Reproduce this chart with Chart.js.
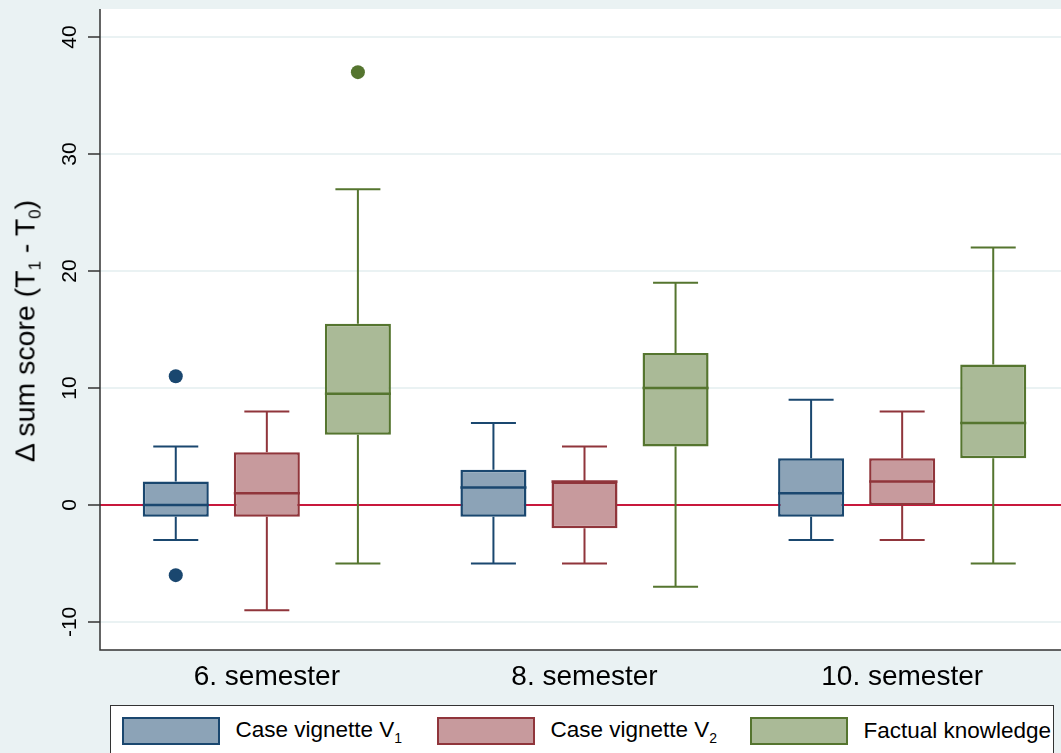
<!DOCTYPE html>
<html>
<head>
<meta charset="utf-8">
<script src="https://cdn.jsdelivr.net/npm/chart.js@4.4.1/dist/chart.umd.min.js"></script>
<style>
  html, body { margin: 0; padding: 0; background: #eaf2f3; }
  #wrap { position: relative; width: 1061px; height: 753px; overflow: hidden; font-family: "Liberation Sans", Arial, sans-serif; }
  #chart { position: absolute; left: 0; top: 0; }
  #ytitle { position: absolute; left: 27px; top: 331px; transform: translate(-50%, -50%) rotate(-90deg); white-space: nowrap; font-size: 28.5px; color: #000; }
  #ytitle sub { font-size: 17px; vertical-align: -6px; }
  #legend { position: absolute; left: 110px; top: 705px; width: 944px; height: 70px; background: #fff; border: 1.5px solid #333; box-sizing: border-box; }
  .item { position: absolute; top: 10.5px; display: flex; align-items: center; font-size: 22.5px; color: #000; white-space: nowrap; }
  .sw { width: 98px; height: 28px; box-sizing: border-box; border: 2.5px solid; margin-right: 16px; }
  .item sub { font-size: 14px; vertical-align: -6px; }
</style>
</head>
<body>
<div id="wrap">
  <canvas id="chart" width="1061" height="753"></canvas>
  <div id="ytitle">&Delta; sum score (T<sub>1</sub> - T<sub>0</sub>)</div>
  <div id="legend"></div>
</div>
<script>
// groups on the x axis
const groups = ['6. semester', '8. semester', '10. semester'];

// Case vignette V1
const v1Min = [-3, -5, -3];
const v1Q1 = [-1, -1, -1];
const v1Med = [0, 1.5, 1];
const v1Q3 = [2, 3, 4];
const v1Max = [5, 7, 9];
const v1Out = [[11, -6], [], []];

// Case vignette V2
const v2Min = [-9, -5, -3];
const v2Q1 = [-1, -2, 0];
const v2Med = [1, 2, 2];
const v2Q3 = [4.5, 2, 4];
const v2Max = [8, 5, 8];
const v2Out = [[], [], []];

// Factual knowledge
const fkMin = [-5, -7, -5];
const fkQ1 = [6, 5, 4];
const fkMed = [9.5, 10, 7];
const fkQ3 = [15.5, 13, 12];
const fkMax = [27, 19, 22];
const fkOut = [[37], [], []];

const yTicks = [-10, 0, 10, 20, 30, 40];

const series = [
    { label: 'Case vignette V', sub: '1', min: v1Min, q1: v1Q1, med: v1Med, q3: v1Q3, max: v1Max, out: v1Out, line: '#1a476f', fill: '#8ca3b7' },
    { label: 'Case vignette V', sub: '2', min: v2Min, q1: v2Q1, med: v2Med, q3: v2Q3, max: v2Max, out: v2Out, line: '#90353b', fill: '#c79a9d' },
    { label: 'Factual knowledge', sub: '', min: fkMin, q1: fkQ1, med: fkMed, q3: fkQ3, max: fkMax, out: fkOut, line: '#55752f', fill: '#aaba97' }
];

const AXIS_X = 100;
const BG = '#eaf2f3';

const boxExtras = {
    id: 'boxExtras',
    beforeDraw(chart) {
        const ctx = chart.ctx;
        const a = chart.chartArea;
        const y = chart.scales.y;
        ctx.save();
        ctx.fillStyle = BG;
        ctx.fillRect(0, 0, chart.width, chart.height);
        ctx.fillStyle = '#fff';
        ctx.fillRect(AXIS_X, a.top, chart.width - AXIS_X, a.bottom - a.top);
        // grid lines
        ctx.strokeStyle = BG;
        ctx.lineWidth = 2;
        yTicks.forEach(t => {
            const py = y.getPixelForValue(t);
            ctx.beginPath();
            ctx.moveTo(AXIS_X, py);
            ctx.lineTo(chart.width, py);
            ctx.stroke();
        });
        ctx.restore();
    },
    beforeDatasetsDraw(chart) {
        const ctx = chart.ctx;
        const py = chart.scales.y.getPixelForValue(0);
        ctx.save();
        ctx.strokeStyle = '#c8183c';
        ctx.lineWidth = 2;
        ctx.beginPath();
        ctx.moveTo(AXIS_X, py);
        ctx.lineTo(chart.width, py);
        ctx.stroke();
        ctx.restore();
    },
    afterDatasetsDraw(chart) {
        const ctx = chart.ctx;
        const y = chart.scales.y;
        const a = chart.chartArea;
        ctx.save();
        series.forEach((s, i) => {
            const meta = chart.getDatasetMeta(i);
            meta.data.forEach((bar, j) => {
                const x = bar.x;
                const cap = 45;
                ctx.strokeStyle = s.line;
                ctx.lineWidth = 2;
                ctx.beginPath();
                ctx.moveTo(x, y.getPixelForValue(s.q3[j]));
                ctx.lineTo(x, y.getPixelForValue(s.max[j]));
                ctx.moveTo(x - cap / 2, y.getPixelForValue(s.max[j]));
                ctx.lineTo(x + cap / 2, y.getPixelForValue(s.max[j]));
                ctx.moveTo(x, y.getPixelForValue(s.q1[j]));
                ctx.lineTo(x, y.getPixelForValue(s.min[j]));
                ctx.moveTo(x - cap / 2, y.getPixelForValue(s.min[j]));
                ctx.lineTo(x + cap / 2, y.getPixelForValue(s.min[j]));
                ctx.stroke();
                // median
                ctx.lineWidth = 2.5;
                ctx.beginPath();
                ctx.moveTo(x - bar.width / 2, y.getPixelForValue(s.med[j]));
                ctx.lineTo(x + bar.width / 2, y.getPixelForValue(s.med[j]));
                ctx.stroke();
                // outside values
                ctx.fillStyle = s.line;
                s.out[j].forEach(v => {
                    ctx.beginPath();
                    ctx.arc(x, y.getPixelForValue(v), 7, 0, Math.PI * 2);
                    ctx.fill();
                });
            });
        });

        // axes
        ctx.strokeStyle = '#333';
        ctx.lineWidth = 1.5;
        ctx.beginPath();
        ctx.moveTo(AXIS_X, a.top);
        ctx.lineTo(AXIS_X, a.bottom);
        ctx.lineTo(chart.width, a.bottom);
        yTicks.forEach(t => {
            const py = y.getPixelForValue(t);
            ctx.moveTo(AXIS_X - 12, py);
            ctx.lineTo(AXIS_X, py);
        });
        ctx.stroke();

        // y tick labels, rotated
        ctx.fillStyle = '#000';
        ctx.font = '21px "Liberation Sans", Arial, sans-serif';
        ctx.textAlign = 'center';
        ctx.textBaseline = 'middle';
        yTicks.forEach(t => {
            ctx.save();
            ctx.translate(70, y.getPixelForValue(t));
            ctx.rotate(-Math.PI / 2);
            ctx.fillText(String(t), 0, 0);
            ctx.restore();
        });
        ctx.restore();
    }
};

new Chart(document.getElementById('chart'), {
    type: 'bar',
    data: {
        labels: groups,
        datasets: series.map(s => ({
            label: s.label + s.sub,
            data: s.q1.map((q, j) => [q, s.q3[j]]),
            backgroundColor: s.fill,
            borderColor: s.line,
            borderWidth: 2.5,
            borderSkipped: false,
            categoryPercentage: 0.86,
            barPercentage: 0.725
        }))
    },
    options: {
        responsive: false,
        animation: false,
        devicePixelRatio: 1,
        layout: { padding: { top: 9, right: 0, left: 0, bottom: 0 } },
        plugins: {
            legend: { display: false },
            tooltip: { enabled: false }
        },
        scales: {
            x: {
                grid: { display: false, drawTicks: false },
                border: { display: false },
                ticks: {
                    color: '#000',
                    padding: 10,
                    font: { family: '"Liberation Sans", Arial, sans-serif', size: 28 }
                },
                afterFit(scale) { scale.height = 103; }
            },
            y: {
                min: -12.4,
                max: 42.4,
                grid: { display: false },
                border: { display: false },
                ticks: { display: false, stepSize: 10, includeBounds: false },
                afterFit(scale) { scale.width = 108; }
            }
        }
    },
    plugins: [boxExtras]
});

// legend with subscripts
const legend = document.getElementById('legend');
const lefts = [10.5, 325.5, 638.5];
series.forEach((s, i) => {
    const item = document.createElement('div');
    item.className = 'item';
    item.style.left = lefts[i] + 'px';
    const sw = document.createElement('div');
    sw.className = 'sw';
    sw.style.background = s.fill;
    sw.style.borderColor = s.line;
    item.appendChild(sw);
    const txt = document.createElement('span');
    txt.textContent = s.label;
    if (s.sub) {
        const sub = document.createElement('sub');
        sub.textContent = s.sub;
        txt.appendChild(sub);
    }
    item.appendChild(txt);
    legend.appendChild(item);
});
</script>
</body>
</html>
